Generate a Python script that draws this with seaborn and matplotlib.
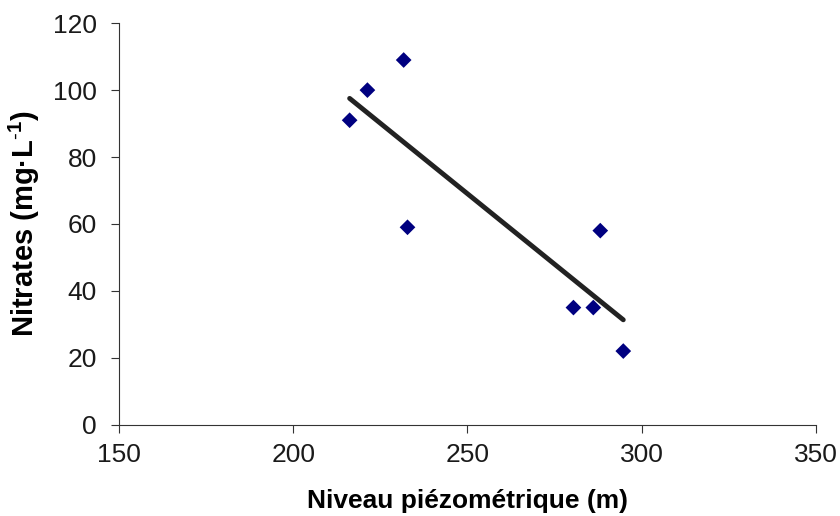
import matplotlib
matplotlib.use("Agg")
import matplotlib.pyplot as plt
import seaborn as sns
import pandas as pd

niveau = [216.2, 221.3, 231.7, 232.8, 280.4, 286.1, 288.1, 294.7]
nitrates = [91, 100, 109, 59, 35, 35, 58, 22]
x_ticks = [150, 200, 250, 300, 350]
y_ticks = [0, 20, 40, 60, 80, 100, 120]

df = pd.DataFrame({"niveau": niveau, "nitrates": nitrates})

sns.set_style("white")
plt.rcParams['font.family'] = ['Liberation Sans', 'DejaVu Sans']
plt.rcParams['mathtext.fontset'] = 'custom'
plt.rcParams['mathtext.bf'] = 'Liberation Sans:bold'
plt.rcParams['mathtext.rm'] = 'Liberation Sans'
plt.rcParams['text.color'] = 'black'
plt.rcParams['axes.labelcolor'] = 'black'
plt.rcParams['xtick.color'] = '#333333'
plt.rcParams['ytick.color'] = '#333333'
plt.rcParams['xtick.labelcolor'] = '#1a1a1a'
plt.rcParams['ytick.labelcolor'] = '#1a1a1a'

fig = plt.figure(figsize=(8.4, 5.16), dpi=100)
ax = fig.add_axes([0.1415, 0.177, 0.8300, 0.778])

sns.regplot(data=df, x="niveau", y="nitrates", ax=ax, ci=None, truncate=True,
            marker="D", color="#000080",
            scatter_kws=dict(s=64, alpha=1, edgecolor="none", zorder=3),
            line_kws=dict(color="#222222", lw=3.5, solid_capstyle="round", zorder=2))

ax.set_xlim(150, 350)
ax.set_ylim(0, 120)
ax.set_xticks(x_ticks)
ax.set_yticks(y_ticks)
ax.tick_params(axis="both", direction="out", length=6, width=0.8,
               labelsize=19, bottom=True, left=True)
ax.tick_params(axis="x", pad=7)
ax.tick_params(axis="y", pad=10)
for s in ["top", "right"]:
    ax.spines[s].set_visible(False)
for s in ["left", "bottom"]:
    ax.spines[s].set_color("#333333")
    ax.spines[s].set_linewidth(0.8)

ax.set_xlabel("Niveau piézométrique (m)", fontsize=19, fontweight="bold", labelpad=16)
ax.set_ylabel(r"Nitrates (mg·L$^{\mathbf{\text{-}1}}$)", fontsize=21, fontweight="bold", labelpad=8)

fig.savefig("out.png", dpi=100)
